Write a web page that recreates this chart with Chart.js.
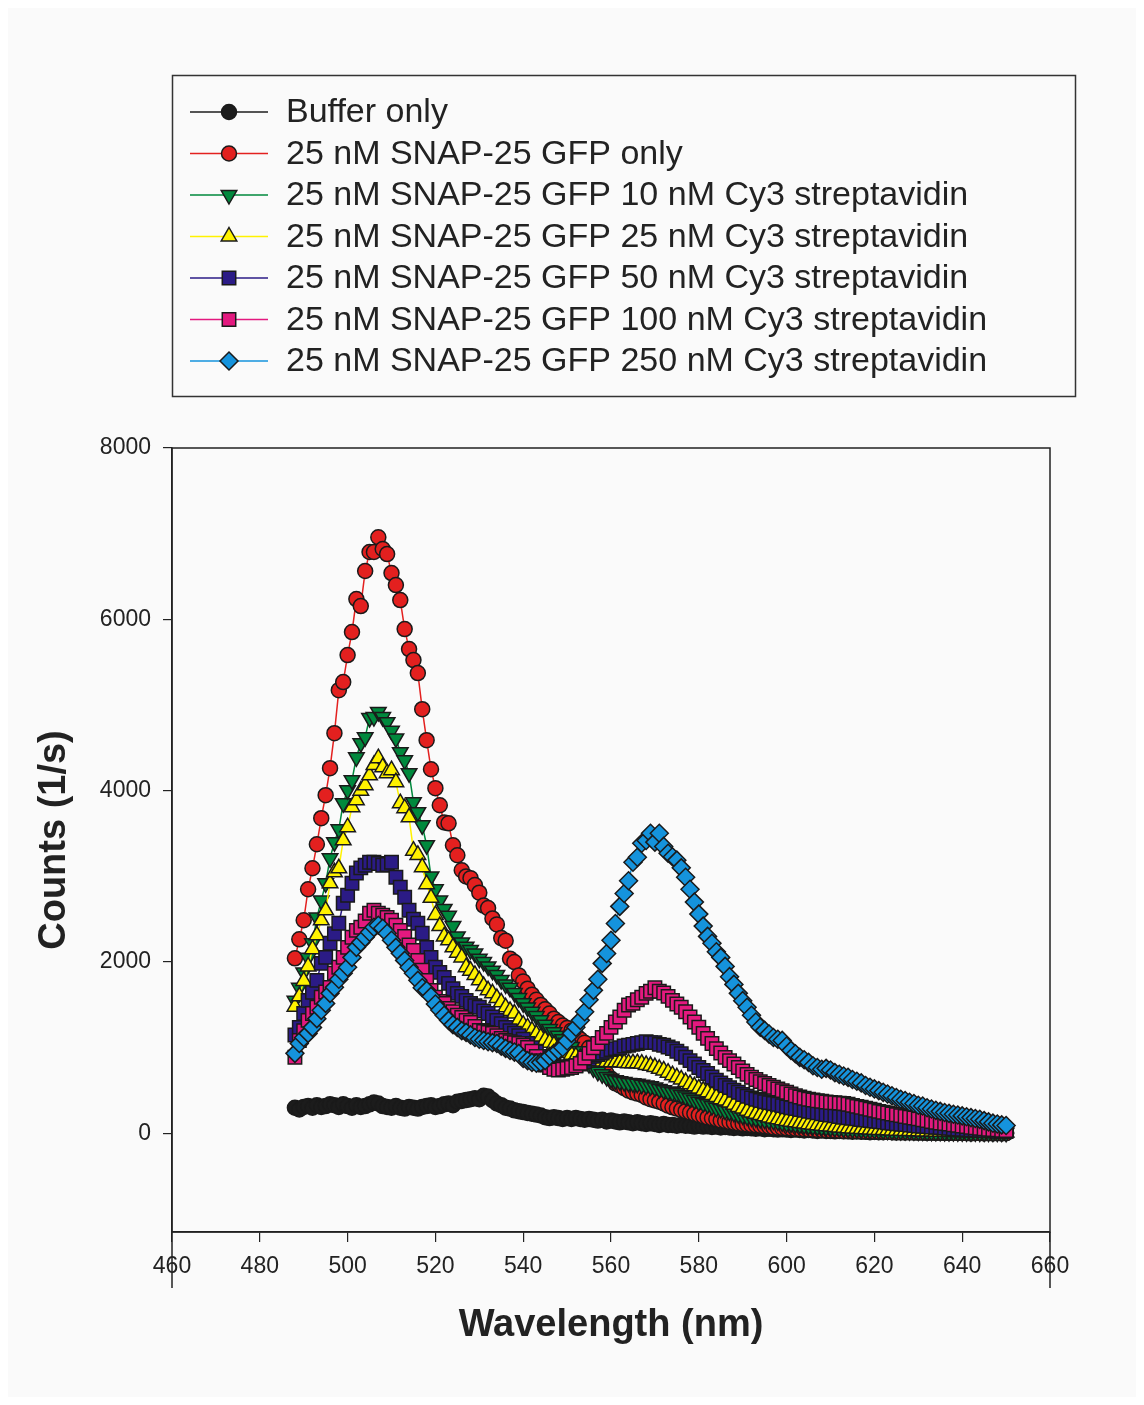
<!DOCTYPE html>
<html>
<head>
<meta charset="utf-8">
<title>SNAP-25 GFP / Cy3 streptavidin emission spectra</title>
<script src="https://cdn.jsdelivr.net/npm/chart.js@4.4.1/dist/chart.umd.min.js"></script>
<style>
  html, body { margin: 0; padding: 0; background: #ffffff; }
  #wrap { position: relative; width: 1144px; height: 1405px; }
  canvas { display: block; }
</style>
</head>
<body>
<div id="wrap"><canvas id="spectra" width="1144" height="1405"></canvas></div>
<script>
// wavelength (nm), one reading per nm
const wavelengths = [
  488,489,490,491,492,493,494,495,496,497,
  498,499,500,501,502,503,504,505,506,507,
  508,509,510,511,512,513,514,515,516,517,
  518,519,520,521,522,523,524,525,526,527,
  528,529,530,531,532,533,534,535,536,537,
  538,539,540,541,542,543,544,545,546,547,
  548,549,550,551,552,553,554,555,556,557,
  558,559,560,561,562,563,564,565,566,567,
  568,569,570,571,572,573,574,575,576,577,
  578,579,580,581,582,583,584,585,586,587,
  588,589,590,591,592,593,594,595,596,597,
  598,599,600,601,602,603,604,605,606,607,
  608,609,610,611,612,613,614,615,616,617,
  618,619,620,621,622,623,624,625,626,627,
  628,629,630,631,632,633,634,635,636,637,
  638,639,640,641,642,643,644,645,646,647,
  648,649,650
];

// counts (1/s)
const bufferOnly = [
  300,280,310,320,300,330,310,320,340,330,
  310,340,320,300,330,310,320,340,360,350,
  320,310,300,320,300,290,310,300,290,310,
  320,330,310,320,340,350,330,370,380,390,
  400,410,400,440,430,390,350,330,300,290,
  270,260,250,240,230,220,210,190,180,190,
  180,170,180,170,180,170,160,170,160,150,
  160,140,150,140,130,140,130,120,130,120,
  110,120,110,100,110,100,100,90,100,90,
  90,80,90,80,85,75,80,70,75,70,
  65,70,60,65,60,55,60,50,55,50,
  45,50,45,40,45,40,35,40,35,30,
  35,30,30,25,30,25,25,20,25,20,
  20,15,20,15,15,20,15,10,15,10,
  15,10,10,10,5,10,5,10,5,5,
  10,5,5,5,0,5,5,0,5,0,
  5,0,5
];

const gfpOnly = [
  2044,2266,2488,2850,3095,3375,3680,3948,4263,4672,
  5174,5268,5583,5852,6237,6155,6564,6786,6786,6958,
  6821,6762,6540,6400,6225,5887,5653,5525,5373,4952,
  4590,4251,4030,3831,3630,3620,3364,3247,3072,3000,
  2980,2900,2810,2660,2630,2510,2440,2280,2250,2040,
  2000,1845,1775,1690,1620,1560,1500,1450,1400,1340,
  1300,1260,1230,1200,1150,1100,1060,1000,930,860,
  780,700,640,585,560,530,500,480,465,450,
  420,400,385,370,350,325,305,290,275,260,
  245,230,215,200,187,178,165,152,145,135,
  125,117,110,105,100,95,90,85,78,70,
  68,65,60,58,55,52,50,47,45,42,
  40,38,36,34,32,30,29,28,26,25,
  24,22,21,20,19,18,17,16,15,14,
  14,13,12,12,11,10,10,9,9,8,
  8,7,7,6,6,6,5,5,5,4,
  4,4,3
];

const cy3_10 = [
  1550,1700,1880,2050,2219,2520,2720,2920,3212,3400,
  3550,3855,4006,4123,4390,4555,4625,4850,4860,4920,
  4860,4800,4700,4610,4450,4355,4205,3866,3750,3597,
  3364,3000,2850,2720,2620,2540,2420,2300,2230,2180,
  2140,2100,2040,2000,1950,1900,1850,1790,1740,1700,
  1640,1580,1520,1470,1420,1370,1320,1270,1220,1180,
  1140,1100,1060,1010,960,910,860,810,760,720,
  690,660,640,620,610,600,590,585,580,570,
  560,550,537,520,505,490,480,470,450,430,
  410,390,370,355,340,320,300,285,268,255,
  240,225,210,198,187,178,170,162,155,150,
  140,130,122,117,110,104,98,92,87,82,
  78,74,70,66,62,59,56,53,50,48,
  45,43,41,39,37,35,33,31,30,28,
  27,25,24,23,22,21,20,19,18,17,
  16,15,15,14,13,13,12,12,11,11,
  10,10,9
];

const cy3_25 = [
  1480,1600,1780,1950,2150,2313,2488,2605,2920,3048,
  3095,3422,3574,3808,3890,4000,4065,4180,4300,4380,
  4275,4205,4240,4100,3855,3796,3690,3300,3250,3107,
  2910,2750,2550,2420,2300,2254,2172,2110,2055,1940,
  1900,1850,1787,1720,1670,1635,1580,1530,1472,1430,
  1400,1320,1270,1238,1200,1160,1120,1090,1060,1030,
  1000,970,940,920,900,880,870,860,850,845,
  840,835,830,830,830,825,820,820,820,815,
  800,790,775,755,735,710,680,655,630,600,
  575,550,525,500,480,450,425,400,385,360,
  335,310,290,265,245,230,215,200,185,175,
  165,155,145,137,130,122,115,108,102,96,
  90,85,80,75,70,66,62,58,55,52,
  49,46,43,41,39,37,35,33,31,29,
  28,26,25,24,23,22,21,20,19,18,
  17,16,16,15,14,14,13,13,12,12,
  11,11,10
];

const cy3_50 = [
  1150,1238,1400,1553,1647,1787,1985,2055,2219,2330,
  2453,2686,2780,2920,3040,3100,3130,3165,3165,3150,
  3130,3140,3165,2990,2873,2756,2605,2500,2453,2336,
  2172,2055,1940,1880,1822,1752,1690,1635,1600,1553,
  1518,1490,1472,1430,1400,1360,1320,1280,1238,1200,
  1170,1140,1100,1050,1000,950,900,860,830,800,
  780,770,770,780,790,810,840,870,900,920,
  940,960,980,990,1000,1020,1030,1040,1050,1060,
  1070,1060,1060,1040,1030,1010,990,960,930,890,
  850,810,770,735,700,660,620,590,560,535,
  505,480,455,435,415,400,385,370,360,350,
  340,325,310,300,290,280,270,260,250,240,
  230,222,214,205,198,190,183,176,170,163,
  157,150,144,138,132,126,120,114,108,103,
  98,93,88,84,80,76,72,68,64,60,
  56,52,49,46,43,40,37,34,31,28,
  26,24,22
];

const cy3_100 = [
  890,1086,1200,1320,1400,1472,1590,1650,1705,1870,
  1940,2055,2172,2290,2370,2406,2480,2570,2605,2570,
  2546,2520,2488,2430,2370,2300,2200,2137,2020,1904,
  1787,1670,1590,1540,1518,1460,1420,1380,1355,1320,
  1296,1250,1203,1190,1180,1168,1140,1110,1086,1070,
  1060,1051,1030,1004,960,900,850,800,770,750,
  740,750,760,770,790,818,880,935,1000,1051,
  1120,1168,1238,1300,1360,1437,1500,1518,1560,1590,
  1635,1660,1700,1660,1640,1600,1553,1510,1472,1420,
  1360,1300,1240,1168,1110,1051,990,940,888,850,
  810,770,730,690,655,630,605,584,560,540,
  520,500,480,460,440,425,410,400,390,382,
  375,368,362,358,354,350,340,328,316,305,
  295,283,270,258,248,238,228,218,208,198,
  190,180,170,160,150,140,130,122,117,110,
  102,95,88,80,72,66,60,55,50,46,
  42,38,35
];

const cy3_250 = [
  935,1051,1120,1168,1238,1340,1437,1518,1635,1705,
  1800,1870,1940,2055,2172,2230,2290,2348,2406,2430,
  2394,2336,2254,2172,2102,2020,1940,1870,1787,1700,
  1670,1600,1510,1440,1380,1320,1270,1238,1200,1180,
  1150,1120,1100,1086,1070,1060,1051,1020,993,970,
  950,935,876,850,830,820,830,850,900,935,
  970,1004,1080,1168,1240,1320,1420,1560,1670,1800,
  1985,2100,2254,2450,2650,2800,2950,3165,3224,3387,
  3420,3504,3400,3504,3350,3270,3230,3190,3100,2990,
  2850,2700,2560,2420,2300,2219,2120,2055,1950,1830,
  1740,1635,1550,1472,1380,1300,1240,1203,1160,1120,
  1100,1086,1020,970,930,888,860,830,790,770,
  750,760,740,710,690,670,655,630,610,590,
  560,540,520,500,480,460,440,420,400,385,
  365,350,330,320,300,285,270,258,245,235,
  225,215,205,195,185,175,165,150,135,120,
  110,100,93
];

const seriesLabels = [
  'Buffer only',
  '25 nM SNAP-25 GFP only',
  '25 nM SNAP-25 GFP 10 nM Cy3 streptavidin',
  '25 nM SNAP-25 GFP 25 nM Cy3 streptavidin',
  '25 nM SNAP-25 GFP 50 nM Cy3 streptavidin',
  '25 nM SNAP-25 GFP 100 nM Cy3 streptavidin',
  '25 nM SNAP-25 GFP 250 nM Cy3 streptavidin'
];
const seriesValues = [bufferOnly, gfpOnly, cy3_10, cy3_25, cy3_50, cy3_100, cy3_250];

const xTicks = [460, 480, 500, 520, 540, 560, 580, 600, 620, 640, 660];
const yTicks = [0, 2000, 4000, 6000, 8000];

// look of each series (marker, colour)
const looks = [
  { color: '#1c1c1c', style: 'circle',   rot: 0,   r: 7.5 },
  { color: '#e3201f', style: 'circle',   rot: 0,   r: 7.5 },
  { color: '#00893d', style: 'triangle', rot: 180, r: 9 },
  { color: '#fff200', style: 'triangle', rot: 0,   r: 9 },
  { color: '#2b1b86', style: 'rect',     rot: 0,   r: 9.5 },
  { color: '#e3197f', style: 'rect',     rot: 0,   r: 9.5 },
  { color: '#1593dc', style: 'rectRot',  rot: 0,   r: 9 }
];

const FONT = "'Liberation Sans', Arial, Helvetica, sans-serif";
const INK = '#222222';
const EDGE = '#1a1a1a';

const datasets = seriesValues.map((vals, i) => ({
  label: seriesLabels[i],
  data: wavelengths.map((w, j) => ({ x: w, y: vals[j] })),
  borderColor: looks[i].color,
  borderWidth: 1.5,
  backgroundColor: looks[i].color,
  pointStyle: looks[i].style,
  pointRotation: looks[i].rot,
  pointRadius: looks[i].r,
  pointBackgroundColor: looks[i].color,
  pointBorderColor: EDGE,
  pointBorderWidth: 1.5,
  tension: 0,
  // later series sit on top
  order: seriesValues.length - 1 - i
}));

function drawMarker(ctx, look, x, y) {
  const r = look.r;
  ctx.beginPath();
  if (look.style === 'circle') {
    ctx.arc(x, y, r, 0, Math.PI * 2);
  } else if (look.style === 'triangle') {
    const dir = look.rot === 180 ? -1 : 1;
    ctx.moveTo(x, y - dir * r);
    ctx.lineTo(x + r * 0.866, y + dir * r * 0.5);
    ctx.lineTo(x - r * 0.866, y + dir * r * 0.5);
    ctx.closePath();
  } else if (look.style === 'rect') {
    const s = r * Math.SQRT1_2;
    ctx.rect(x - s, y - s, 2 * s, 2 * s);
  } else {
    ctx.moveTo(x - r, y);
    ctx.lineTo(x, y - r);
    ctx.lineTo(x + r, y);
    ctx.lineTo(x, y + r);
    ctx.closePath();
  }
  ctx.fillStyle = look.color;
  ctx.fill();
  ctx.lineWidth = 1.5;
  ctx.strokeStyle = EDGE;
  ctx.stroke();
}

const framePlugin = {
  id: 'frame',
  beforeDraw(chart) {
    const ctx = chart.ctx;
    ctx.save();
    ctx.fillStyle = '#ffffff';
    ctx.fillRect(0, 0, chart.width, chart.height);
    ctx.fillStyle = '#fafafa';
    ctx.fillRect(8, 8, chart.width - 16, chart.height - 16);
    ctx.restore();
  },
  afterDraw(chart) {
    const ctx = chart.ctx;
    const a = chart.chartArea;
    ctx.save();
    // box round the plot
    ctx.strokeStyle = INK;
    ctx.lineWidth = 1.5;
    ctx.strokeRect(a.left, a.top, a.right - a.left, a.bottom - a.top);
    // the long end ticks below the x axis
    ctx.beginPath();
    ctx.moveTo(a.left, a.bottom);
    ctx.lineTo(a.left, a.bottom + 56);
    ctx.moveTo(a.right, a.bottom);
    ctx.lineTo(a.right, a.bottom + 56);
    ctx.stroke();

    // legend box
    const bx = 172.5, by = 75.5, bw = 903, bh = 321;
    ctx.lineWidth = 1.5;
    ctx.strokeStyle = '#333333';
    ctx.strokeRect(bx, by, bw, bh);
    ctx.font = '34px ' + FONT;
    ctx.textBaseline = 'middle';
    ctx.textAlign = 'left';
    seriesLabels.forEach((lab, i) => {
      const y = 112 + i * 41.5;
      ctx.beginPath();
      ctx.moveTo(190, y);
      ctx.lineTo(268, y);
      ctx.strokeStyle = looks[i].color;
      ctx.lineWidth = 1.5;
      ctx.stroke();
      drawMarker(ctx, looks[i], 229, y);
      ctx.fillStyle = INK;
      ctx.fillText(lab, 286, y + 1);
    });
    ctx.restore();
  }
};

new Chart(document.getElementById('spectra'), {
  type: 'line',
  data: { datasets: datasets },
  plugins: [framePlugin],
  options: {
    responsive: false,
    devicePixelRatio: 1,
    animation: false,
    events: [],
    layout: { padding: { left: 20, right: 94, top: 448, bottom: 40 } },
    plugins: {
      legend: { display: false },
      tooltip: { enabled: false }
    },
    scales: {
      x: {
        type: 'linear',
        min: 460,
        max: 660,
        afterBuildTicks: s => { s.ticks = xTicks.map(v => ({ value: v })); },
        afterFit: s => { s.height = 133; },
        border: { display: true, color: INK, width: 1.5 },
        grid: { drawOnChartArea: false, drawTicks: true, tickLength: 10, color: INK, lineWidth: 1.2 },
        ticks: {
          font: { family: FONT, size: 23 }, color: INK, padding: 11, maxRotation: 0, autoSkip: false,
          callback: v => String(v)
        },
        title: {
          display: true,
          text: 'Wavelength (nm)',
          color: INK,
          font: { family: FONT, size: 38, weight: 'bold' },
          padding: { top: 0, bottom: 17 }
        }
      },
      y: {
        type: 'linear',
        min: -1150,
        max: 8000,
        afterBuildTicks: s => { s.ticks = yTicks.map(v => ({ value: v })); },
        afterFit: s => { s.width = 152; },
        border: { display: true, color: INK, width: 1.5 },
        grid: { drawOnChartArea: false, drawTicks: true, tickLength: 9, color: INK, lineWidth: 1.2 },
        ticks: {
          font: { family: FONT, size: 23 }, color: INK, padding: 12,
          callback: v => String(v)
        },
        title: {
          display: true,
          text: 'Counts (1/s)',
          color: INK,
          font: { family: FONT, size: 38, weight: 'bold' },
          padding: { top: 12, bottom: 0 }
        }
      }
    }
  }
});
</script>
</body>
</html>
